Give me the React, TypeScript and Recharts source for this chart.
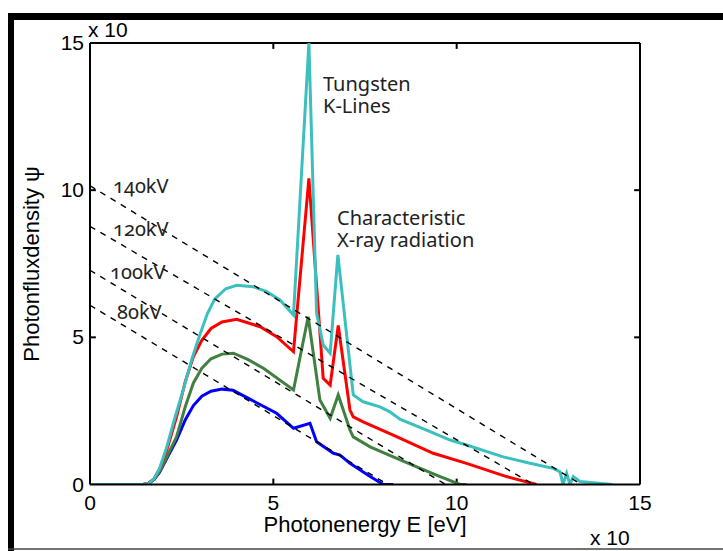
import React from 'react';
import { LineChart, Line, XAxis, YAxis, ReferenceLine } from 'recharts';

// spectra: [energy, flux]
const kv140: [number, number][] = [
  [0, 0], [1.45, 0], [1.6, 0.04], [1.75, 0.2], [1.9, 0.55], [2.1, 1.3], [2.3, 2.2], [2.55, 3.25],
  [2.8, 4.35], [3.0, 5.1], [3.2, 5.8], [3.4, 6.3], [3.7, 6.65], [4.0, 6.77], [4.45, 6.72],
  [4.82, 6.55], [5.18, 6.27], [5.55, 5.76], [5.97, 15.0], [6.18, 5.82], [6.36, 4.74], [6.55, 4.46],
  [6.76, 7.8], [7.18, 3.04], [7.45, 2.81], [7.91, 2.64], [8.18, 2.47], [8.45, 2.22], [9.18, 1.85],
  [9.82, 1.51], [10.27, 1.34], [11.27, 0.94], [12.0, 0.72], [12.63, 0.55], [12.82, 0.43], [12.9, 0],
  [13.0, 0.38], [13.09, 0], [13.18, 0.27], [13.36, 0.1], [14.25, 0],
];
const kv120: [number, number][] = [
  [0, 0], [1.45, 0], [1.6, 0.04], [1.75, 0.2], [1.9, 0.53], [2.1, 1.2], [2.36, 2.3], [2.6, 3.5],
  [2.82, 4.35], [3.05, 4.9], [3.3, 5.3], [3.6, 5.52], [4.0, 5.61], [4.64, 5.36], [5.09, 5.02],
  [5.55, 4.51], [5.97, 10.4], [6.36, 3.61], [6.55, 3.38], [6.77, 5.4], [7.09, 2.53], [7.18, 2.3],
  [7.45, 2.13], [8.27, 1.68], [9.36, 1.06], [10.27, 0.72], [11.36, 0.27], [12.18, 0],
];
const kv100: [number, number][] = [
  [0, 0], [1.45, 0], [1.6, 0.04], [1.75, 0.18], [1.9, 0.45], [2.1, 0.95], [2.36, 1.62], [2.6, 2.65],
  [2.82, 3.45], [3.05, 3.95], [3.3, 4.27], [3.6, 4.43], [3.91, 4.46], [4.3, 4.25], [4.73, 3.95],
  [5.55, 3.21], [5.95, 5.7], [6.27, 2.87], [6.55, 2.25], [6.77, 3.04], [7.09, 1.85], [7.18, 1.62],
  [7.64, 1.28], [8.27, 0.94], [8.91, 0.6], [9.55, 0.27], [10.09, 0], [10.27, 0],
];
const kv80: [number, number][] = [
  [0, 0], [1.45, 0], [1.6, 0.04], [1.75, 0.17], [1.9, 0.42], [2.1, 0.9], [2.36, 1.51], [2.6, 2.2],
  [2.82, 2.68], [3.05, 3.0], [3.3, 3.17], [3.6, 3.24], [3.9, 3.2], [4.36, 2.9], [5.09, 2.42],
  [5.55, 1.91], [6.0, 2.08], [6.18, 1.45], [6.64, 1.06], [6.82, 1.0], [7.09, 0.72], [7.64, 0.27],
  [8.0, 0], [8.27, 0],
];

// Kramers envelopes (dashed): start value on the y axis, end energy on the x axis
const envelopes: [number, number][] = [[10.15, 13.4], [8.77, 12.1], [7.28, 9.7], [6.09, 8.12]];
const envelopeNames = ['140kV', '120kV', '100kV', '80kV'];

const xTicks = [0, 5, 10, 15];
const yTicks = [0, 5, 10, 15];

const toRows = (pts: [number, number][]) => pts.map(([x, y]) => ({ x, y }));

const axisFont = '"Liberation Sans", Arial, sans-serif';
const noteFont = '"Noto Sans", "Open Sans", sans-serif';

const XTick = ({ x, y, payload }: any) => (
  <text x={x} y={y + 25} textAnchor="middle" fontSize={21} fontFamily={axisFont} fill="#000">
    {payload.value}
  </text>
);

const YTick = ({ x, y, payload }: any) => (
  <text x={x - 6} y={y + 7} textAnchor="end" fontSize={21} fontFamily={axisFont} fill="#000">
    {payload.value}
  </text>
);

export default function App() {
  const inner = yTicks.slice(1, -1);
  return (
    <div style={{ position: 'absolute', left: 0, top: 0, width: 723, height: 551, background: '#fff' }}>
      <LineChart width={723} height={551} margin={{ top: 43, right: 83, bottom: 0, left: 0 }}>
        <XAxis
          dataKey="x"
          type="number"
          domain={[0, 15]}
          ticks={xTicks}
          tick={<XTick />}
          tickLine={false}
          tickSize={0}
          tickMargin={0}
          height={66.5}
          axisLine={{ stroke: '#000', strokeWidth: 2 }}
        />
        <YAxis
          type="number"
          domain={[0, 15]}
          ticks={yTicks}
          tick={<YTick />}
          tickLine={false}
          tickSize={0}
          tickMargin={0}
          width={90}
          allowDataOverflow
          axisLine={{ stroke: '#000', strokeWidth: 2 }}
        />
        <ReferenceLine y={15} stroke="#000" strokeWidth={2} />
        <ReferenceLine x={15} stroke="#000" strokeWidth={2} />
        {inner.map(t => (
          <ReferenceLine key={'b' + t} segment={[{ x: t, y: 0 }, { x: t, y: 0.2 }]} stroke="#000" strokeWidth={2} />
        ))}
        {inner.map(t => (
          <ReferenceLine key={'t' + t} segment={[{ x: t, y: 15 }, { x: t, y: 14.8 }]} stroke="#000" strokeWidth={2} />
        ))}
        {inner.map(t => (
          <ReferenceLine key={'l' + t} segment={[{ x: 0, y: t }, { x: 0.16, y: t }]} stroke="#000" strokeWidth={2} />
        ))}
        {inner.map(t => (
          <ReferenceLine key={'r' + t} segment={[{ x: 15, y: t }, { x: 14.84, y: t }]} stroke="#000" strokeWidth={2} />
        ))}
        <Line data={toRows(kv80)} dataKey="y" stroke="#0000ff" strokeWidth={3} dot={false} type="linear" isAnimationActive={false} />
        <Line data={toRows(kv100)} dataKey="y" stroke="#408040" strokeWidth={3} dot={false} type="linear" isAnimationActive={false} />
        <Line data={toRows(kv120)} dataKey="y" stroke="#ff0000" strokeWidth={3} dot={false} type="linear" isAnimationActive={false} />
        <Line data={toRows(kv140)} dataKey="y" stroke="#3cbfbf" strokeWidth={3} dot={false} type="linear" isAnimationActive={false} />
        {envelopes.map(([y0, x1], i) => (
          <Line
            key={envelopeNames[i]}
            data={[{ x: 0, y: y0 }, { x: x1, y: 0 }]}
            dataKey="y"
            stroke="#000"
            strokeWidth={1.4}
            strokeDasharray="6 6"
            dot={false}
            type="linear"
            isAnimationActive={false}
          />
        ))}
      </LineChart>
      <svg width={723} height={551} style={{ position: 'absolute', left: 0, top: 0, pointerEvents: 'none' }}>
        <rect x={8} y={13} width={715} height={7} fill="#000" />
        <rect x={8} y={13} width={6} height={538} fill="#000" />
        <line x1={8} y1={549} x2={723} y2={549} stroke="#444" strokeWidth={1.5} />
        <text x={88} y={37} fontSize={21} fontFamily={axisFont} fill="#000">x 10</text>
        <text x={590} y={545} fontSize={21} fontFamily={axisFont} fill="#000">x 10</text>
        <text x={365} y={532} textAnchor="middle" fontSize={22} fontFamily={axisFont} fill="#000">
          Photonenergy E [eV]
        </text>
        <text
          x={39}
          y={264}
          textAnchor="middle"
          fontSize={22}
          fontFamily={axisFont}
          fill="#000"
          transform="rotate(-90 39 264)"
        >
          Photonfluxdensity ψ
        </text>
        <g fontFamily={noteFont} fontSize={20} fill="#222" style={{ fontVariantNumeric: 'oldstyle-nums' }}>
          <text x={323} y={91}>
            Tungsten
            <tspan x={323} dy={22}>K-Lines</tspan>
          </text>
          <text x={337} y={225}>
            Characteristic
            <tspan x={337} dy={22}>X-ray radiation</tspan>
          </text>
          <text x={113} y={193}>{envelopeNames[0]}</text>
          <text x={113} y={236}>{envelopeNames[1]}</text>
          <text x={110} y={279}>{envelopeNames[2]}</text>
          <text x={117} y={319}>{envelopeNames[3]}</text>
        </g>
      </svg>
    </div>
  );
}
